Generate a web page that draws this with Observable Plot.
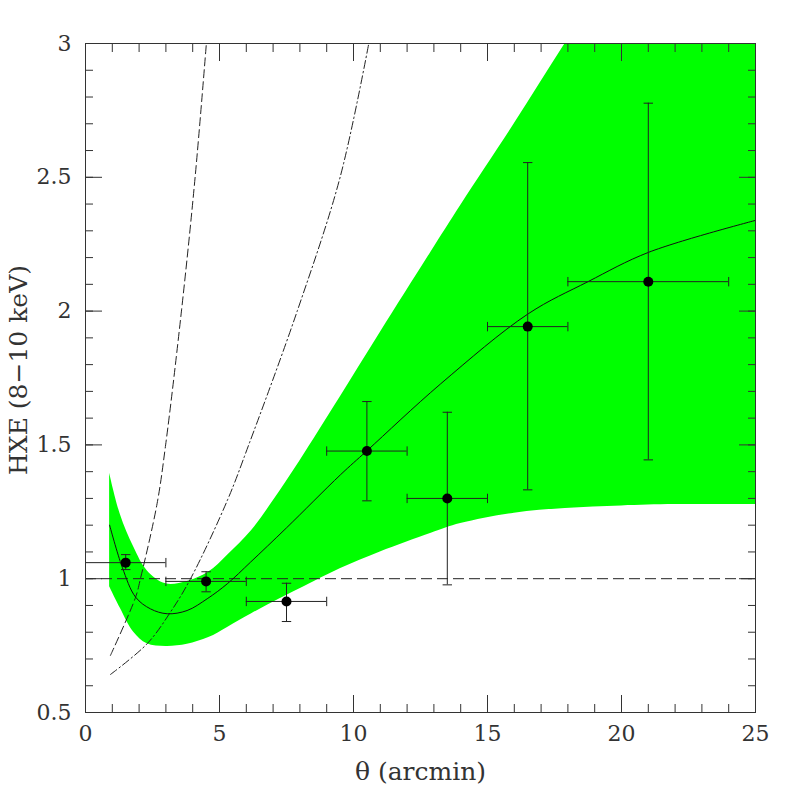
<!DOCTYPE html>
<html>
<head>
<meta charset="utf-8">
<script src="https://cdn.jsdelivr.net/npm/d3@7"></script>
<script src="https://cdn.jsdelivr.net/npm/@observablehq/plot@0.6"></script>
<style>
  html, body { margin: 0; padding: 0; background: #fff; }
  svg { display: block; }
</style>
</head>
<body>
<div id="chart"></div>
<script>
// ---- Data points with error bars ----
const thetaPts = [1.5, 4.5, 7.5, 10.5, 13.5, 16.5, 21];
const hxePts   = [1.06, 0.99, 0.915, 1.477, 1.30, 1.942, 2.11];
const thetaLo  = [0, 3, 6, 9, 12, 15, 18];
const thetaHi  = [3, 6, 9, 12, 15, 18, 24];
const hxeLo    = [1.034, 0.951, 0.84, 1.291, 0.977, 1.332, 1.444];
const hxeHi    = [1.09, 1.026, 0.983, 1.662, 1.622, 2.555, 2.777];

// ---- Green confidence band ----
const bandTheta = [0.9, 1.3, 1.8, 2.3, 3.0, 3.8, 4.6, 5.3, 6.2, 7.0, 8.0, 9.5, 11.0, 12.9, 14.0, 16.0, 17.9, 20.0, 22.0, 25.0];
const bandLow   = [0.97, 0.89, 0.80, 0.757, 0.747, 0.755, 0.78, 0.818, 0.869, 0.912, 0.962, 1.037, 1.10, 1.17, 1.206, 1.245, 1.262, 1.272, 1.277, 1.277];
const bandHigh  = [1.394, 1.24, 1.118, 1.03, 0.981, 0.99, 1.025, 1.088, 1.18, 1.29, 1.44, 1.678, 1.92, 2.222, 2.395, 2.70, 3.0, 3.32, 3.63, 4.09];

// ---- Best-fit model (solid) ----
const modelTheta = [0.9, 1.37, 1.87, 2.43, 3.05, 3.79, 4.54, 5.29, 6.16, 7.5, 9.51, 10.5, 13.25, 16.52, 18.75, 21.02, 25];
const modelHxe   = [1.20, 1.043, 0.931, 0.887, 0.869, 0.881, 0.925, 0.981, 1.062, 1.19, 1.388, 1.478, 1.728, 1.99, 2.11, 2.22, 2.339];

// ---- Dashed model ----
const dashTheta = [0.93, 1.87, 2.05, 2.67, 2.99, 3.58, 4.09, 4.51];
const dashHxe   = [0.713, 0.931, 1.0, 1.28, 1.50, 2.0, 2.5, 3.0];

// ---- Dash-dot model ----
const dotdashTheta = [0.93, 2.3, 3.17, 3.92, 5.29, 6.09, 7.90, 9.5, 10.57];
const dotdashHxe   = [0.642, 0.757, 0.875, 1.0, 1.292, 1.5, 2.0, 2.5, 3.0];

// ---- Reference level ----
const unityLevel = [1];

// ---- Ticks ----
const xMajor = [0, 5, 10, 15, 20, 25];
const xMinor = [0,1,2,3,4,5,6,7,8,9,10,11,12,13,14,15,16,17,18,19,20,21,22,23,24,25];
const yMajor = [0.5, 1, 1.5, 2, 2.5, 3];
const yMinor = [0.5,0.6,0.7,0.8,0.9,1,1.1,1.2,1.3,1.4,1.5,1.6,1.7,1.8,1.9,2,2.1,2.2,2.3,2.4,2.5,2.6,2.7,2.8,2.9,3];

const xLabel = "θ (arcmin)";
const yLabel = "HXE (8−10 keV)";

// ---- Build tables ----
const pts = thetaPts.map((t, i) => ({theta: t, hxe: hxePts[i], tLo: thetaLo[i], tHi: thetaHi[i], hLo: hxeLo[i], hHi: hxeHi[i]}));
const band = bandTheta.map((t, i) => ({theta: t, lo: bandLow[i], hi: bandHigh[i]}));
const model = modelTheta.map((t, i) => ({theta: t, hxe: modelHxe[i]}));
const dash = dashTheta.map((t, i) => ({theta: t, hxe: dashHxe[i]}));
const dotdash = dotdashTheta.map((t, i) => ({theta: t, hxe: dotdashHxe[i]}));

const capH = {draw(ctx, size) { const r = Math.sqrt(size / Math.PI); ctx.moveTo(-r, 0); ctx.lineTo(r, 0); }};
const capV = {draw(ctx, size) { const r = Math.sqrt(size / Math.PI); ctx.moveTo(0, -r); ctx.lineTo(0, r); }};

const ink = "#222";
const font = "DejaVu Serif";
const noText = () => "";
const smooth = "catmull-rom";

const chart = Plot.plot({
  width: 797,
  height: 797,
  marginLeft: 85,
  marginRight: 42,
  marginTop: 43,
  marginBottom: 85,
  style: {fontFamily: font, background: "#fff", color: ink},
  x: {domain: [0, 25]},
  y: {domain: [0.5, 3]},
  marks: [
    Plot.areaY(band, {x: "theta", y1: "lo", y2: "hi", fill: "#00ff00", curve: smooth, clip: true}),
    Plot.ruleY(unityLevel, {stroke: ink, strokeWidth: 1, strokeDasharray: "11,5"}),
    Plot.line(dash, {x: "theta", y: "hxe", stroke: ink, strokeWidth: 1, strokeDasharray: "8,4", curve: smooth, clip: true}),
    Plot.line(dotdash, {x: "theta", y: "hxe", stroke: ink, strokeWidth: 1, strokeDasharray: "8,3,1.5,3", curve: smooth, clip: true}),
    Plot.line(model, {x: "theta", y: "hxe", stroke: "#111", strokeWidth: 1, curve: smooth, clip: true}),
    // error bars
    Plot.ruleX(pts, {x: "theta", y1: "hLo", y2: "hHi", stroke: ink, strokeWidth: 1}),
    Plot.ruleY(pts, {y: "hxe", x1: "tLo", x2: "tHi", stroke: ink, strokeWidth: 1}),
    Plot.dot(pts, {x: "theta", y: "hLo", symbol: capH, r: 4.7, stroke: ink, fill: "none", strokeWidth: 1}),
    Plot.dot(pts, {x: "theta", y: "hHi", symbol: capH, r: 4.7, stroke: ink, fill: "none", strokeWidth: 1}),
    Plot.dot(pts, {x: "tLo", y: "hxe", symbol: capV, r: 4.7, stroke: ink, fill: "none", strokeWidth: 1}),
    Plot.dot(pts, {x: "tHi", y: "hxe", symbol: capV, r: 4.7, stroke: ink, fill: "none", strokeWidth: 1}),
    Plot.dot(pts, {x: "theta", y: "hxe", r: 5, fill: "#000", stroke: "none"}),
    // frame
    Plot.frame({stroke: "#333", strokeWidth: 1}),
    // inward ticks, all four sides
    Plot.axisX(xMajor, {anchor: "bottom", tickSize: -17, tickFormat: noText, label: null, stroke: "#333"}),
    Plot.axisX(xMinor, {anchor: "bottom", tickSize: -8, tickFormat: noText, label: null, stroke: "#333"}),
    Plot.axisX(xMajor, {anchor: "top", tickSize: -17, tickFormat: noText, label: null, stroke: "#333"}),
    Plot.axisX(xMinor, {anchor: "top", tickSize: -8, tickFormat: noText, label: null, stroke: "#333"}),
    Plot.axisY(yMajor, {anchor: "left", tickSize: -17, tickFormat: noText, label: null, stroke: "#333"}),
    Plot.axisY(yMinor, {anchor: "left", tickSize: -8, tickFormat: noText, label: null, stroke: "#333"}),
    Plot.axisY(yMajor, {anchor: "right", tickSize: -17, tickFormat: noText, label: null, stroke: "#333"}),
    Plot.axisY(yMinor, {anchor: "right", tickSize: -8, tickFormat: noText, label: null, stroke: "#333"}),
    // tick labels
    Plot.axisX(xMajor, {anchor: "bottom", tickSize: 0, tickPadding: 13, fontSize: 22, fill: "#333", label: null, tickFormat: d => String(d)}),
    Plot.axisY(yMajor, {anchor: "left", tickSize: 0, tickPadding: 14, fontSize: 22, fill: "#333", label: null, tickFormat: d => String(d)}),
    // axis titles
    Plot.text([xLabel], {text: d => d, frameAnchor: "bottom", lineAnchor: "middle", textAnchor: "middle", dy: 59, fontSize: 25, fill: "#333"}),
    Plot.text([yLabel], {text: d => d, frameAnchor: "left", lineAnchor: "middle", textAnchor: "middle", dx: -67, dy: -8, rotate: -90, fontSize: 25, fill: "#333"})
  ]
});
document.getElementById("chart").appendChild(chart);
</script>
</body>
</html>
